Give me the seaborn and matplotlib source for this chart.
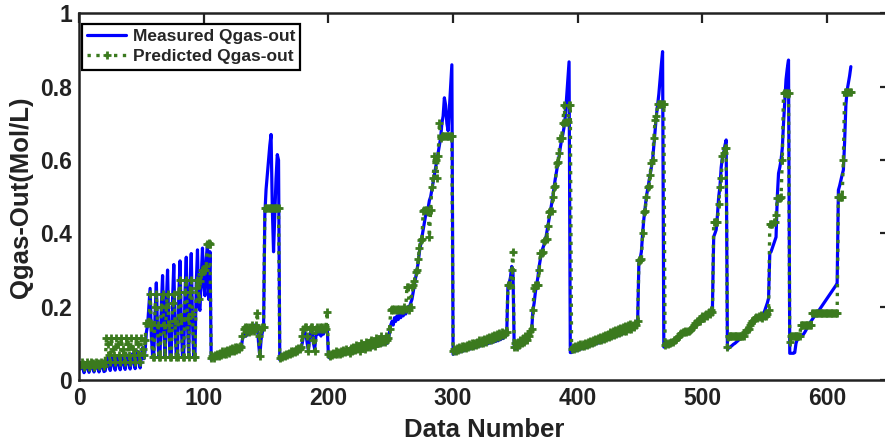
import numpy as np
import matplotlib
matplotlib.use("Agg")
import matplotlib.pyplot as plt
import seaborn as sns

# ---------------- data ----------------
seg_a_start = 1
seg_a_meas = [0.03, 0.045, 0.035, 0.02, 0.03, 0.046, 0.035, 0.021, 0.031, 0.047,
              0.036, 0.022, 0.032, 0.048, 0.036, 0.022, 0.033, 0.05, 0.037, 0.023]
seg_a_pred = [0.04, 0.05, 0.045, 0.035, 0.04, 0.05, 0.045, 0.036, 0.042, 0.05,
              0.046, 0.036, 0.042, 0.05, 0.046, 0.037, 0.043, 0.05, 0.046, 0.037]

seg_b_start = 21
seg_b_meas = [0.025, 0.045, 0.062, 0.04, 0.026, 0.046, 0.063, 0.041, 0.027, 0.047,
              0.064, 0.042, 0.028, 0.048, 0.066, 0.043, 0.029, 0.05, 0.068, 0.045,
              0.03, 0.052, 0.072, 0.048, 0.031, 0.055, 0.078, 0.052, 0.033, 0.06,
              0.088, 0.058]
seg_b_pred = [0.05, 0.114, 0.098, 0.068, 0.05, 0.114, 0.084, 0.068, 0.05, 0.114,
              0.098, 0.068, 0.05, 0.114, 0.084, 0.068, 0.05, 0.114, 0.098, 0.068,
              0.05, 0.114, 0.084, 0.068, 0.05, 0.114, 0.098, 0.068, 0.05, 0.114,
              0.084, 0.068]

seg_c_start = 53
seg_c_meas = [0.08, 0.13, 0.15, 0.2, 0.25, 0.12, 0.065, 0.07, 0.18, 0.265,
              0.13, 0.062, 0.07, 0.2, 0.285, 0.14, 0.062, 0.21, 0.3, 0.14,
              0.062, 0.07, 0.22, 0.315, 0.15, 0.062, 0.07, 0.23, 0.325, 0.15,
              0.062, 0.07, 0.24, 0.335, 0.15, 0.062, 0.25, 0.345, 0.16, 0.062,
              0.07, 0.26, 0.355, 0.2, 0.19, 0.28, 0.36, 0.26, 0.23, 0.33,
              0.37, 0.22, 0.35]
seg_c_pred = [0.11, 0.155, 0.155, 0.155, 0.235, 0.15, 0.064, 0.064, 0.2, 0.235,
              0.15, 0.064, 0.064, 0.2, 0.235, 0.15, 0.064, 0.2, 0.235, 0.15,
              0.064, 0.064, 0.21, 0.235, 0.16, 0.064, 0.064, 0.24, 0.273, 0.17,
              0.064, 0.064, 0.24, 0.273, 0.17, 0.064, 0.24, 0.273, 0.18, 0.064,
              0.064, 0.25, 0.273, 0.22, 0.27, 0.29, 0.3, 0.3, 0.3, 0.31,
              0.37, 0.375, 0.37]

seg_d_start = 106
seg_d_meas = [0.055, 0.06, 0.058, 0.062, 0.06, 0.065, 0.062, 0.066, 0.064, 0.068,
              0.066, 0.07, 0.068, 0.072, 0.07, 0.074, 0.072, 0.076, 0.074, 0.078,
              0.076, 0.08, 0.078, 0.082, 0.085,
              0.11, 0.12, 0.13, 0.12, 0.135, 0.125, 0.14, 0.13, 0.145, 0.13,
              0.15, 0.14, 0.15, 0.1, 0.065, 0.11, 0.13, 0.14]
seg_d_pred = [0.06, 0.065, 0.06, 0.068, 0.065, 0.072, 0.066, 0.075, 0.068, 0.078,
              0.07, 0.08, 0.072, 0.082, 0.075, 0.085, 0.078, 0.088, 0.08, 0.09,
              0.082, 0.09, 0.085, 0.092, 0.09,
              0.12, 0.14, 0.145, 0.13, 0.145, 0.13, 0.145, 0.135, 0.15, 0.135,
              0.14, 0.15, 0.183, 0.12, 0.065, 0.14, 0.145, 0.145]

seg_e_start = 149
seg_e_meas = [0.45, 0.52, 0.56, 0.6, 0.64, 0.67, 0.47, 0.35, 0.45, 0.55, 0.615, 0.6]
seg_e_pred = [0.47, 0.47, 0.47, 0.47, 0.47, 0.47, 0.47, 0.47, 0.47, 0.47, 0.47, 0.47]

seg_f_start = 161
seg_f_meas = [0.055, 0.06, 0.058, 0.063, 0.061, 0.066, 0.064, 0.069, 0.067, 0.072,
              0.07, 0.075, 0.073, 0.078, 0.076, 0.08, 0.082, 0.085, 0.1,
              0.12, 0.13, 0.125, 0.1, 0.08, 0.12, 0.135, 0.13, 0.1, 0.085,
              0.12, 0.135, 0.125, 0.13, 0.12, 0.135, 0.125, 0.14, 0.135, 0.15]
seg_f_pred = [0.06, 0.065, 0.062, 0.068, 0.066, 0.072, 0.068, 0.075, 0.07, 0.078,
              0.074, 0.08, 0.076, 0.084, 0.08, 0.086, 0.085, 0.09, 0.12,
              0.14, 0.145, 0.145, 0.12, 0.08, 0.14, 0.145, 0.145, 0.11, 0.08,
              0.14, 0.145, 0.14, 0.145, 0.14, 0.145, 0.14, 0.145, 0.14, 0.186]

seg_g_start = 200
seg_g_meas = [0.065, 0.06, 0.066, 0.063, 0.068, 0.065, 0.07, 0.067, 0.071, 0.068,
              0.072, 0.069, 0.073, 0.07, 0.075, 0.072, 0.076, 0.073, 0.078, 0.075,
              0.08, 0.076, 0.081, 0.078, 0.083, 0.079, 0.085, 0.081, 0.087, 0.083,
              0.089, 0.085, 0.09, 0.087, 0.092, 0.088, 0.094, 0.09, 0.096, 0.092,
              0.098, 0.094, 0.1, 0.096, 0.102, 0.098, 0.104, 0.1, 0.108]
seg_g_pred = [0.07, 0.065, 0.072, 0.068, 0.075, 0.07, 0.078, 0.072, 0.076, 0.07,
              0.08, 0.074, 0.082, 0.076, 0.085, 0.078, 0.08, 0.074, 0.088, 0.08,
              0.09, 0.082, 0.095, 0.085, 0.09, 0.08, 0.1, 0.088, 0.095, 0.085,
              0.105, 0.09, 0.1, 0.09, 0.11, 0.095, 0.1, 0.092, 0.115, 0.1,
              0.105, 0.1, 0.12, 0.105, 0.11, 0.105, 0.12, 0.11, 0.115]

seg_h_start = 249
seg_h_meas = [0.13, 0.15, 0.16, 0.15, 0.17, 0.16, 0.175, 0.165, 0.18, 0.17,
              0.185, 0.175, 0.19, 0.18, 0.19, 0.2, 0.2, 0.21, 0.22, 0.24,
              0.26, 0.28, 0.3, 0.32, 0.35, 0.37, 0.39, 0.41, 0.43, 0.45,
              0.46, 0.47, 0.49, 0.5, 0.52, 0.54, 0.56, 0.58, 0.6, 0.62,
              0.64, 0.66, 0.7, 0.72, 0.77, 0.75, 0.7, 0.68, 0.74, 0.8,
              0.86]
seg_h_pred = [0.14, 0.19, 0.195, 0.19, 0.195, 0.19, 0.195, 0.19, 0.195, 0.19,
              0.195, 0.19, 0.2, 0.195, 0.255, 0.255, 0.19, 0.2, 0.255, 0.26,
              0.27, 0.296, 0.3, 0.33, 0.36, 0.382, 0.385, 0.46, 0.465, 0.465,
              0.465, 0.46, 0.39, 0.465, 0.527, 0.55, 0.61, 0.6, 0.55, 0.61,
              0.7, 0.66, 0.665, 0.665, 0.665, 0.665, 0.665, 0.665, 0.665, 0.665,
              0.665]

seg_i_start = 300
seg_i_meas = [0.07, 0.075, 0.072, 0.078, 0.075, 0.08, 0.077, 0.082, 0.079, 0.084,
              0.081, 0.086, 0.083, 0.088, 0.085, 0.09, 0.087, 0.092, 0.089, 0.094,
              0.091, 0.096, 0.093, 0.098, 0.095, 0.1, 0.097, 0.102, 0.099, 0.104,
              0.101, 0.106, 0.103, 0.108, 0.105, 0.11, 0.107, 0.113, 0.11, 0.116,
              0.113, 0.12, 0.118, 0.125]
seg_i_pred = [0.08, 0.085, 0.08, 0.088, 0.082, 0.09, 0.085, 0.092, 0.086, 0.094,
              0.088, 0.095, 0.09, 0.098, 0.092, 0.1, 0.094, 0.102, 0.096, 0.105,
              0.098, 0.108, 0.1, 0.11, 0.102, 0.112, 0.105, 0.115, 0.108, 0.118,
              0.11, 0.12, 0.112, 0.122, 0.115, 0.125, 0.118, 0.128, 0.12, 0.13,
              0.122, 0.128, 0.125, 0.132]

seg_j_start = 344
seg_j_meas = [0.26, 0.265, 0.28, 0.31, 0.3, 0.087]
seg_j_pred = [0.259, 0.26, 0.26, 0.3, 0.35, 0.09]

seg_k_start = 350
seg_k_meas = [0.085, 0.09, 0.095, 0.088, 0.1, 0.095, 0.105, 0.1, 0.11, 0.105,
              0.115, 0.12, 0.13, 0.135]
seg_k_pred = [0.1, 0.09, 0.105, 0.095, 0.11, 0.1, 0.115, 0.105, 0.12, 0.11,
              0.125, 0.12, 0.135, 0.14]

seg_l_start = 364
seg_l_meas = [0.19, 0.21, 0.24, 0.26, 0.28, 0.31, 0.33, 0.35, 0.36, 0.37,
              0.38, 0.4, 0.42, 0.44, 0.46, 0.48, 0.5, 0.527, 0.55, 0.57,
              0.59, 0.61, 0.635, 0.655, 0.67, 0.69, 0.72, 0.77, 0.82, 0.868,
              0.075]
seg_l_pred = [0.19, 0.25, 0.259, 0.259, 0.26, 0.3, 0.346, 0.346, 0.35, 0.38,
              0.382, 0.385, 0.42, 0.459, 0.46, 0.46, 0.5, 0.527, 0.53, 0.591,
              0.595, 0.62, 0.659, 0.66, 0.7, 0.75, 0.705, 0.705, 0.705, 0.75,
              0.75]

seg_m_start = 395
seg_m_meas = [0.075, 0.08, 0.078, 0.083, 0.08, 0.085, 0.082, 0.087, 0.085, 0.089,
              0.087, 0.091, 0.089, 0.094, 0.091, 0.096, 0.094, 0.099, 0.096, 0.101,
              0.099, 0.104, 0.101, 0.106, 0.104, 0.109, 0.106, 0.111, 0.109, 0.114,
              0.111, 0.116, 0.114, 0.119, 0.116, 0.121, 0.119, 0.124, 0.121, 0.127,
              0.124, 0.13, 0.127, 0.133, 0.13, 0.136, 0.133, 0.139, 0.136, 0.142,
              0.14, 0.146, 0.15, 0.158]
seg_m_pred = [0.085, 0.09, 0.085, 0.092, 0.088, 0.095, 0.09, 0.097, 0.092, 0.098,
              0.094, 0.1, 0.096, 0.103, 0.098, 0.106, 0.1, 0.108, 0.103, 0.112,
              0.106, 0.115, 0.108, 0.118, 0.11, 0.12, 0.112, 0.123, 0.115, 0.126,
              0.118, 0.13, 0.12, 0.133, 0.122, 0.136, 0.125, 0.14, 0.128, 0.143,
              0.13, 0.145, 0.133, 0.148, 0.135, 0.15, 0.138, 0.152, 0.14, 0.15,
              0.145, 0.155, 0.15, 0.16]

seg_n_start = 449
seg_n_meas = [0.32, 0.33, 0.35, 0.4, 0.44, 0.47, 0.5, 0.52, 0.54, 0.56,
              0.58, 0.6, 0.64, 0.68, 0.72, 0.75, 0.78, 0.82, 0.86, 0.896,
              0.09]
seg_n_pred = [0.327, 0.327, 0.33, 0.4, 0.459, 0.46, 0.5, 0.527, 0.53, 0.56,
              0.591, 0.6, 0.66, 0.709, 0.72, 0.753, 0.753, 0.753, 0.753, 0.753,
              0.753]

seg_o_start = 470
seg_o_meas = [0.091, 0.095, 0.093, 0.098, 0.096, 0.1, 0.099, 0.104, 0.103, 0.108,
              0.11, 0.115, 0.118, 0.12, 0.125, 0.128, 0.132, 0.133, 0.133, 0.134,
              0.135, 0.137, 0.14, 0.143, 0.147, 0.15, 0.152, 0.155, 0.157, 0.16,
              0.163, 0.166, 0.17, 0.173, 0.177, 0.182, 0.186, 0.192, 0.2]
seg_o_pred = [0.095, 0.1, 0.098, 0.102, 0.1, 0.105, 0.103, 0.108, 0.11, 0.112,
              0.118, 0.12, 0.125, 0.128, 0.132, 0.132, 0.133, 0.132, 0.134, 0.133,
              0.136, 0.14, 0.145, 0.15, 0.155, 0.152, 0.16, 0.165, 0.16, 0.17,
              0.175, 0.17, 0.178, 0.18, 0.175, 0.185, 0.18, 0.19, 0.185]

seg_p_start = 509
seg_p_meas = [0.391, 0.4, 0.41, 0.45, 0.5, 0.527, 0.58, 0.609, 0.62, 0.64, 0.655]
seg_p_pred = [0.43, 0.432, 0.432, 0.432, 0.48, 0.527, 0.55, 0.61, 0.62, 0.632, 0.632]

seg_q_start = 520
seg_q_meas = [0.084, 0.087, 0.09, 0.092, 0.095, 0.098, 0.1, 0.103, 0.106, 0.109,
              0.112, 0.114, 0.117, 0.12, 0.125, 0.13, 0.135, 0.14, 0.145, 0.15,
              0.155, 0.16, 0.163, 0.166, 0.168, 0.17, 0.172, 0.175, 0.178, 0.18,
              0.19, 0.2, 0.21, 0.223, 0.346]
seg_q_pred = [0.09, 0.12, 0.12, 0.12, 0.12, 0.12, 0.12, 0.12, 0.12, 0.12,
              0.12, 0.12, 0.12, 0.12, 0.13, 0.136, 0.136, 0.14, 0.15, 0.155,
              0.16, 0.165, 0.17, 0.173, 0.17, 0.175, 0.173, 0.178, 0.17, 0.175,
              0.18, 0.175, 0.18, 0.19, 0.427]

seg_r_start = 555
seg_r_meas = [0.35, 0.36, 0.37, 0.38, 0.39, 0.5, 0.564, 0.58, 0.6, 0.632,
              0.7, 0.76, 0.82, 0.85, 0.873]
seg_r_pred = [0.427, 0.427, 0.43, 0.43, 0.45, 0.496, 0.496, 0.496, 0.5, 0.6,
              0.784, 0.784, 0.784, 0.784, 0.784]

seg_s_start = 570
seg_s_meas = [0.073, 0.073, 0.073, 0.073, 0.075, 0.1, 0.11, 0.112, 0.115, 0.118,
              0.12, 0.125, 0.13, 0.136, 0.142, 0.148, 0.155, 0.16, 0.165, 0.17,
              0.175, 0.18, 0.184, 0.188, 0.193, 0.198, 0.203, 0.208, 0.213, 0.218,
              0.223, 0.228, 0.233, 0.238, 0.243, 0.248, 0.253, 0.258, 0.264]
seg_s_pred = [0.105, 0.12, 0.12, 0.12, 0.12, 0.12, 0.12, 0.12, 0.12, 0.15,
              0.15, 0.15, 0.15, 0.15, 0.15, 0.15, 0.15, 0.15, 0.184, 0.184,
              0.184, 0.184, 0.184, 0.184, 0.184, 0.184, 0.184, 0.184, 0.184, 0.184,
              0.184, 0.184, 0.184, 0.184, 0.184, 0.184, 0.184, 0.184, 0.184]

seg_t_start = 609
seg_t_meas = [0.518, 0.53, 0.545, 0.56, 0.573, 0.65, 0.75, 0.79, 0.81, 0.83, 0.855]
seg_t_pred = [0.5, 0.5, 0.5, 0.5, 0.6, 0.785, 0.785, 0.785, 0.785, 0.785, 0.785]

seg_starts = [seg_a_start, seg_b_start, seg_c_start, seg_d_start, seg_e_start,
              seg_f_start, seg_g_start, seg_h_start, seg_i_start, seg_j_start,
              seg_k_start, seg_l_start, seg_m_start, seg_n_start, seg_o_start,
              seg_p_start, seg_q_start, seg_r_start, seg_s_start, seg_t_start]
meas_segs = [seg_a_meas, seg_b_meas, seg_c_meas, seg_d_meas, seg_e_meas,
             seg_f_meas, seg_g_meas, seg_h_meas, seg_i_meas, seg_j_meas,
             seg_k_meas, seg_l_meas, seg_m_meas, seg_n_meas, seg_o_meas,
             seg_p_meas, seg_q_meas, seg_r_meas, seg_s_meas, seg_t_meas]
pred_segs = [seg_a_pred, seg_b_pred, seg_c_pred, seg_d_pred, seg_e_pred,
             seg_f_pred, seg_g_pred, seg_h_pred, seg_i_pred, seg_j_pred,
             seg_k_pred, seg_l_pred, seg_m_pred, seg_n_pred, seg_o_pred,
             seg_p_pred, seg_q_pred, seg_r_pred, seg_s_pred, seg_t_pred]

x_ticks = [0, 100, 200, 300, 400, 500, 600]
y_ticks = [0, 0.2, 0.4, 0.6, 0.8, 1.0]
y_tick_labels = ["0", "0.2", "0.4", "0.6", "0.8", "1"]


def build(starts, segs):
    xs, ys = [], []
    for s, vals in zip(starts, segs):
        xs.extend(range(s, s + len(vals)))
        ys.extend(vals)
    return np.array(xs), np.array(ys)


xm, ym = build(seg_starts, meas_segs)
xp, yp = build(seg_starts, pred_segs)

# ---------------- plot ----------------
sns.set_theme(style="white")
plt.rcParams["font.family"] = ["Liberation Sans", "DejaVu Sans"]
plt.rcParams["font.weight"] = "bold"
plt.rcParams["axes.labelweight"] = "bold"

fig = plt.figure(figsize=(8.85, 4.44), dpi=100)
ax = fig.add_axes([0.0893, 0.1441, 0.9158, 0.8255])

sns.lineplot(x=xm, y=ym, ax=ax, color="#0000ff", linewidth=2.3,
             label="Measured Qgas-out", estimator=None, sort=False)
sns.lineplot(x=xp, y=yp, ax=ax, color="#3b7a1e", linewidth=2.4, linestyle=":",
             marker="+", markersize=6, markeredgewidth=2.0,
             markeredgecolor="#3b7a1e",
             label="Predicted Qgas-out", estimator=None, sort=False)

ax.set_xlim(0, 650)
ax.set_ylim(0, 1)
ax.set_xticks(x_ticks)
ax.set_xticklabels([str(t) for t in x_ticks])
ax.set_yticks(y_ticks)
ax.set_yticklabels(y_tick_labels)
ax.tick_params(direction="in", length=7, width=1.6, top=True, right=True,
               labelsize=16.5, pad=5, colors="#222222")
for lab in ax.get_xticklabels() + ax.get_yticklabels():
    lab.set_fontweight("bold")
    lab.set_color("#222222")
for sp in ax.spines.values():
    sp.set_color("#222222")
    sp.set_linewidth(1.8)

ax.set_xlabel("Data Number", fontsize=18.5, fontweight="bold", color="#222222",
              labelpad=6)
ax.set_ylabel("Qgas-Out(Mol/L)", fontsize=18.5, fontweight="bold", color="#222222",
              labelpad=5)

leg = ax.legend(loc="upper left", bbox_to_anchor=(0.004, 0.972),
                fontsize=12.5, frameon=True, fancybox=False, edgecolor="black",
                borderpad=0.3, handlelength=2.2, handletextpad=0.4,
                labelspacing=0.3, borderaxespad=0.0, framealpha=1)
leg.get_frame().set_linewidth(1.6)
for t in leg.get_texts():
    t.set_fontweight("bold")

fig.savefig("out.png", dpi=100)
